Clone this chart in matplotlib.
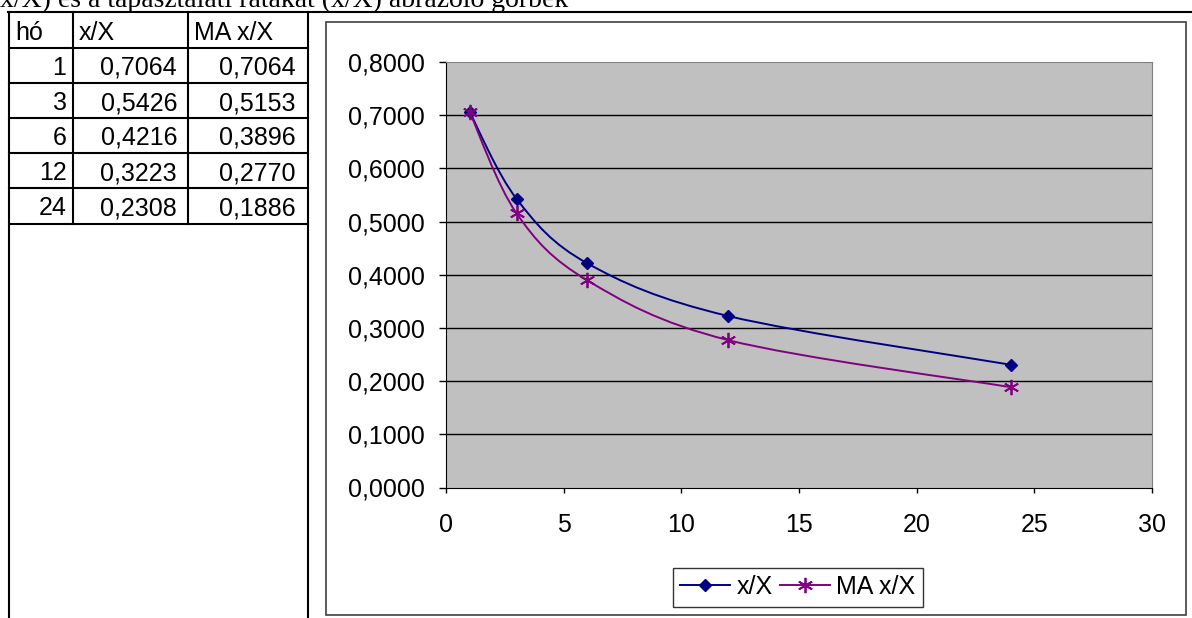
import numpy as np
import matplotlib
matplotlib.use("Agg")
import matplotlib.pyplot as plt
from matplotlib.path import Path
from matplotlib.patches import PathPatch, Rectangle
from matplotlib.lines import Line2D
from matplotlib.ticker import FuncFormatter, MultipleLocator

# data: months and the two ratio series
ho = [1, 3, 6, 12, 24]
xX = [0.7064, 0.5426, 0.4216, 0.3223, 0.2308]
ma_xX = [0.7064, 0.5153, 0.3896, 0.2770, 0.1886]
headers = ["hó", "x/X", "MA x/X"]
title_text = "x/X) és a tapasztalati rátákat (x/X) ábrázoló görbék"

W, H = 1192, 618
plt.rcParams["font.family"] = ["Liberation Sans", "DejaVu Sans"]
FS = 18

fig = plt.figure(figsize=(W / 100, H / 100), dpi=100)


def px(x, y):
    # pixel position (from top-left) -> figure fraction
    return x / W, 1 - y / H


def hline(x0, x1, y, lw=1.5, color="black"):
    fig.add_artist(Line2D([x0 / W, x1 / W], [1 - y / H, 1 - y / H],
                          transform=fig.transFigure, color=color, lw=lw))


def vline(x, y0, y1, lw=1.5, color="black"):
    fig.add_artist(Line2D([x / W, x / W], [1 - y0 / H, 1 - y1 / H],
                          transform=fig.transFigure, color=color, lw=lw))


def fmt(v):
    return f"{v:.4f}".replace(".", ",")


# heading line of the document (top cut off by the page edge)
fig.text(*px(0, 7), title_text, family="Liberation Serif", fontsize=20,
         ha="left", va="baseline")
hline(8, W, 12)

# table on the left
col_x = [9, 72.5, 188, 308]
row_y = [12, 48, 83, 118, 153, 188, 224]
for y in row_y[1:]:
    hline(col_x[0], col_x[-1], y)
vline(col_x[0], 12, H)
vline(col_x[-1], 12, H)
for x in col_x[1:-1]:
    vline(x, 12, row_y[-1])

pads = [6, 11, 12]
for j, h in enumerate(headers):
    fig.text(*px(col_x[j] + 6, (row_y[0] + row_y[1]) / 2), h, fontsize=FS,
             ha="left", va="center_baseline")
for i in range(len(ho)):
    yc = (row_y[i + 1] + row_y[i + 2]) / 2
    vals = [str(ho[i]), fmt(xX[i]), fmt(ma_xX[i])]
    for j, v in enumerate(vals):
        fig.text(*px(col_x[j + 1] - pads[j], yc), v, fontsize=FS,
                 ha="right", va="center_baseline")

# chart frame
fig.add_artist(Rectangle((326 / W, 1 - 615 / H), (1186 - 326) / W, (615 - 22) / H,
                         transform=fig.transFigure, fill=False,
                         edgecolor="#404040", lw=1.2))

ax = fig.add_axes([446 / W, 1 - 487.5 / H, 706 / W, 425.5 / H])
ax.set_facecolor("#C0C0C0")
ax.set_xlim(0, 30)
ax.set_ylim(0, 0.8)
ax.xaxis.set_major_locator(MultipleLocator(5))
ax.yaxis.set_major_locator(MultipleLocator(0.1))
ax.yaxis.set_major_formatter(FuncFormatter(lambda v, p: fmt(v)))
ax.tick_params(axis="y", direction="out", length=5, width=1, pad=10, labelsize=FS)
ax.tick_params(axis="x", direction="out", length=3.6, width=1, pad=15, labelsize=FS)
for yv in np.arange(0.1, 0.75, 0.1):
    ax.axhline(yv, color="black", lw=1, zorder=1)
for s in ["top", "right"]:
    ax.spines[s].set_color("#808080")
for s in ["left", "bottom"]:
    ax.spines[s].set_color("black")


def smooth_path(xs, ys):
    # bezier segments through the points (spreadsheet-style smoothed line)
    pts = np.column_stack([xs, ys]).astype(float)
    n = len(pts)
    verts = [pts[0]]
    codes = [Path.MOVETO]
    for i in range(n - 1):
        p_prev = pts[i - 1] if i > 0 else pts[i]
        p_next = pts[i + 2] if i + 2 < n else pts[i + 1]
        c1 = pts[i] + (pts[i + 1] - p_prev) / 6
        c2 = pts[i + 1] - (p_next - pts[i]) / 6
        verts += [c1, c2, pts[i + 1]]
        codes += [Path.CURVE4] * 3
    return Path(verts, codes)


navy = "#000080"
purple = "#800080"
star = (6, 2, 0)

ax.add_patch(PathPatch(smooth_path(ho, xX), fill=False, edgecolor=navy, lw=1.4, zorder=3))
ax.add_patch(PathPatch(smooth_path(ho, ma_xX), fill=False, edgecolor=purple, lw=1.4, zorder=3))
ax.plot(ho, xX, ls="none", marker="D", ms=6.5, color=navy, zorder=4)
ax.plot(ho, ma_xX, ls="none", marker=star, ms=11, mew=1.3, color=purple, zorder=4)

handles = [
    Line2D([], [], color=navy, lw=1.4, marker="D", ms=6.5),
    Line2D([], [], color=purple, lw=1.4, marker=star, ms=11, mew=1.3),
]
leg = fig.legend(handles, ["x/X", "MA x/X"], loc="center",
                 bbox_to_anchor=px(798, 587), ncol=2, fontsize=FS,
                 frameon=True, fancybox=False, edgecolor="black",
                 handlelength=2.0, handletextpad=0.25, columnspacing=0.3,
                 borderpad=0.3, borderaxespad=0)
leg.get_frame().set_linewidth(1)

fig.savefig("out.png", dpi=100)
